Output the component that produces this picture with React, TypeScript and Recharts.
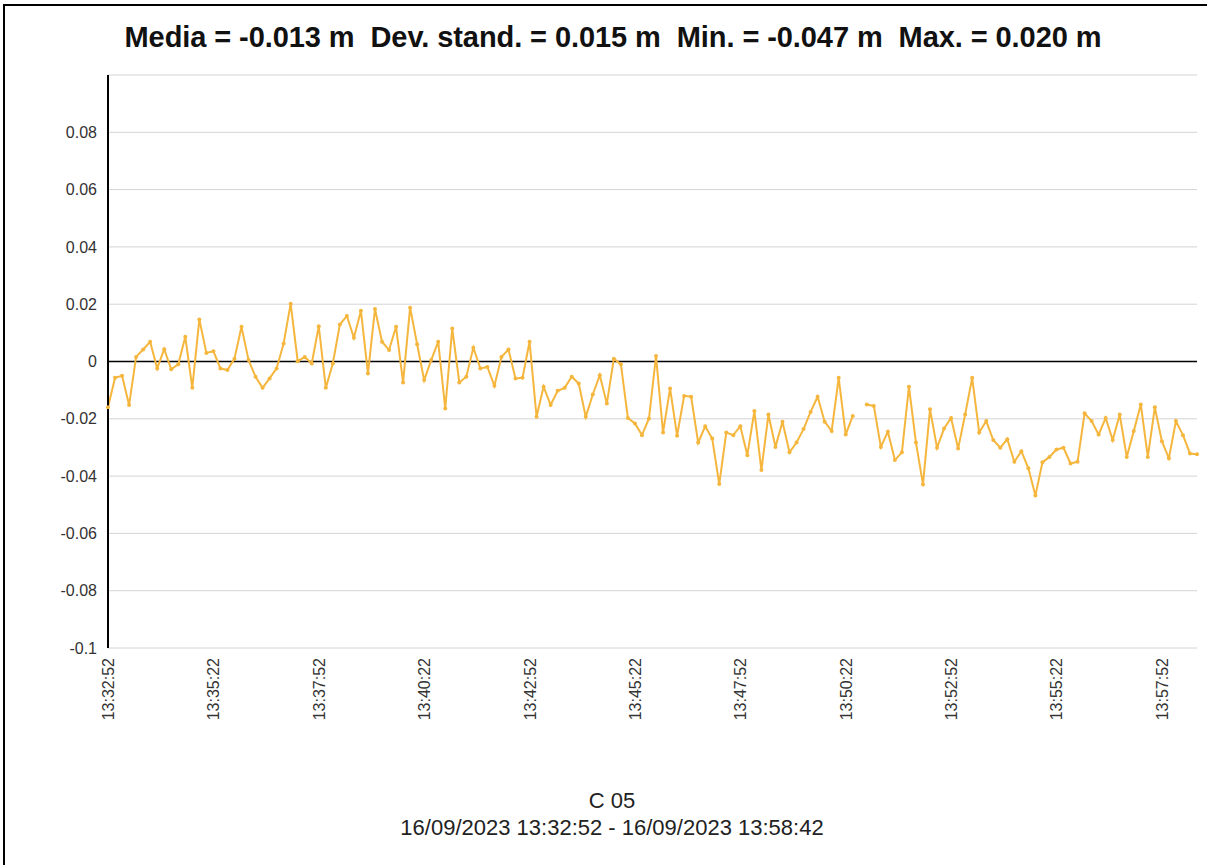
import React from 'react'
import {
  LineChart,
  Line,
  XAxis,
  YAxis,
  CartesianGrid,
  ReferenceLine
} from 'recharts'

// samples every 10 s starting at 13:32:52 (null = missing sample)
const START_TIME = '13:32:52'
const STEP_S = 10

const values: (number | null)[] = [
  -0.016, -0.0057, -0.005, -0.0152, 0.0016, 0.0042, 0.0069, -0.0024, 0.0043, -0.0027,
  -0.001, 0.0086, -0.0092, 0.0147, 0.003, 0.0036, -0.0024, -0.003, 0.001, 0.0121,
  0.0005, -0.0053, -0.0092, -0.0059, -0.0024, 0.0063, 0.0202, 0.0001, 0.0016, -0.0007,
  0.0123, -0.0092, -0.0007, 0.0129, 0.0159, 0.0083, 0.0177, -0.0042, 0.0183,
  0.0069, 0.004, 0.0121, -0.0073, 0.0188, 0.006, -0.0065, 0.0005, 0.0069, -0.0164,
  0.0115, -0.0073, -0.0053, 0.0048, -0.0024, -0.0019, -0.0085, 0.0016, 0.0042,
  -0.0059, -0.0057, 0.0069, -0.0193, -0.0088, -0.0152, -0.0102, -0.0092, -0.0053, -0.0077,
  -0.0193, -0.0115, -0.0048, -0.0147, 0.001, -0.001, -0.0197, -0.0216, -0.0257,
  -0.0199, 0.0019, -0.0248, -0.0094, -0.0259, -0.012, -0.0123, -0.0283, -0.0226, -0.0269,
  -0.0428, -0.0248, -0.0257, -0.0226, -0.0327, -0.0173, -0.0379, -0.0185, -0.0298, -0.021,
  -0.0317, -0.0283, -0.0236, -0.0176, -0.0123, -0.021, -0.0243, -0.0057, -0.0255, -0.019,
  null, -0.015, -0.0155, -0.0298, -0.0245, -0.0344, -0.0317, -0.0088,
  -0.0283, -0.0429, -0.0167, -0.0301, -0.0234, -0.0197, -0.0304, -0.0185, -0.0057, -0.0248,
  -0.0208, -0.0274, -0.0301, -0.0271, -0.035, -0.0313, -0.0373, -0.0468, -0.0352, -0.0333,
  -0.0307, -0.0301, -0.0356, -0.035, -0.0181, -0.0208, -0.0255, -0.0197, -0.0274, -0.0185,
  -0.0333, -0.0243, -0.015, -0.0333, -0.016, -0.0278, -0.0338, -0.0208, -0.0257, -0.0321,
  -0.0324
]

const xTickLabels = [
  '13:32:52', '13:35:22', '13:37:52', '13:40:22', '13:42:52', '13:45:22',
  '13:47:52', '13:50:22', '13:52:52', '13:55:22', '13:57:52'
]
const yTicks = [-0.1, -0.08, -0.06, -0.04, -0.02, 0, 0.02, 0.04, 0.06, 0.08]

const TITLE = 'Media = -0.013 m  Dev. stand. = 0.015 m  Min. = -0.047 m  Max. = 0.020 m'
const SUB1 = 'C 05'
const SUB2 = '16/09/2023 13:32:52 - 16/09/2023 13:58:42'

const LINE_COLOR = '#F5B63E'
const FONT = "'Liberation Sans', Arial, sans-serif"

const toSec = (s: string) => {
  const [h, m, sec] = s.split(':').map(Number)
  return h * 3600 + m * 60 + sec
}
const pad = (n: number) => String(n).padStart(2, '0')
const toClock = (sec: number) =>
  `${pad(Math.floor(sec / 3600))}:${pad(Math.floor((sec % 3600) / 60))}:${pad(sec % 60)}`

const startSec = toSec(START_TIME)
const data = values.map((v, i) => ({ t: i * STEP_S, v }))
const xTicks = xTickLabels.map((l) => toSec(l) - startSec)
const endT = (values.length - 1) * STEP_S

const XTick = (props: any) => {
  const { x, y, payload } = props
  return (
    <text
      x={0}
      y={0}
      dy={6}
      transform={`translate(${x},${y + 2}) rotate(-90)`}
      textAnchor="end"
      fontSize={16}
      fill="#333"
      fontFamily={FONT}
    >
      {toClock(startSec + payload.value)}
    </text>
  )
}

export default function App() {
  return (
    <div
      style={{
        position: 'absolute',
        left: 0,
        top: 0,
        width: 1207,
        height: 865,
        background: '#fff',
        fontFamily: FONT
      }}
    >
      <div
        style={{
          position: 'absolute',
          left: 3,
          top: 4,
          right: 0,
          bottom: 0,
          borderTop: '2px solid #000',
          borderLeft: '2px solid #000'
        }}
      />
      <LineChart
        width={1207}
        height={865}
        data={data}
        margin={{ top: 75, right: 10, bottom: 137, left: 0 }}
      >
        <CartesianGrid vertical={false} stroke="#d4d4d4" strokeWidth={1} />
        <XAxis
          dataKey="t"
          type="number"
          domain={[0, endT]}
          ticks={xTicks}
          tick={<XTick />}
          axisLine={false}
          tickLine={false}
          height={80}
          interval={0}
        />
        <YAxis
          type="number"
          domain={[-0.1, 0.1]}
          ticks={yTicks}
          width={108}
          axisLine={{ stroke: '#000', strokeWidth: 2 }}
          tickLine={false}
          tickMargin={5}
          tick={{ fontSize: 16, fill: '#333', fontFamily: FONT }}
          tickFormatter={(v: number) => (v === 0 ? '0' : String(+v.toFixed(2)))}
          interval={0}
        />
        <ReferenceLine y={0} stroke="#000" strokeWidth={1.5} />
        <Line
          type="linear"
          dataKey="v"
          stroke={LINE_COLOR}
          strokeWidth={2}
          dot={{ r: 2, fill: LINE_COLOR, stroke: LINE_COLOR, strokeWidth: 0 }}
          activeDot={false}
          connectNulls={false}
          isAnimationActive={false}
        />
      </LineChart>
      <svg
        width={1207}
        height={865}
        style={{ position: 'absolute', left: 0, top: 0, pointerEvents: 'none' }}
      >
        <text
          x={613}
          y={47}
          textAnchor="middle"
          fontSize={29}
          fontWeight="bold"
          fill="#111"
          fontFamily={FONT}
          textLength={977}
          lengthAdjust="spacing"
          style={{ whiteSpace: 'pre' }}
        >
          {TITLE}
        </text>
        <text x={612} y={808} textAnchor="middle" fontSize={22} fill="#222" fontFamily={FONT}>
          {SUB1}
        </text>
        <text x={612} y={835} textAnchor="middle" fontSize={22} fill="#222" fontFamily={FONT}>
          {SUB2}
        </text>
      </svg>
    </div>
  )
}
